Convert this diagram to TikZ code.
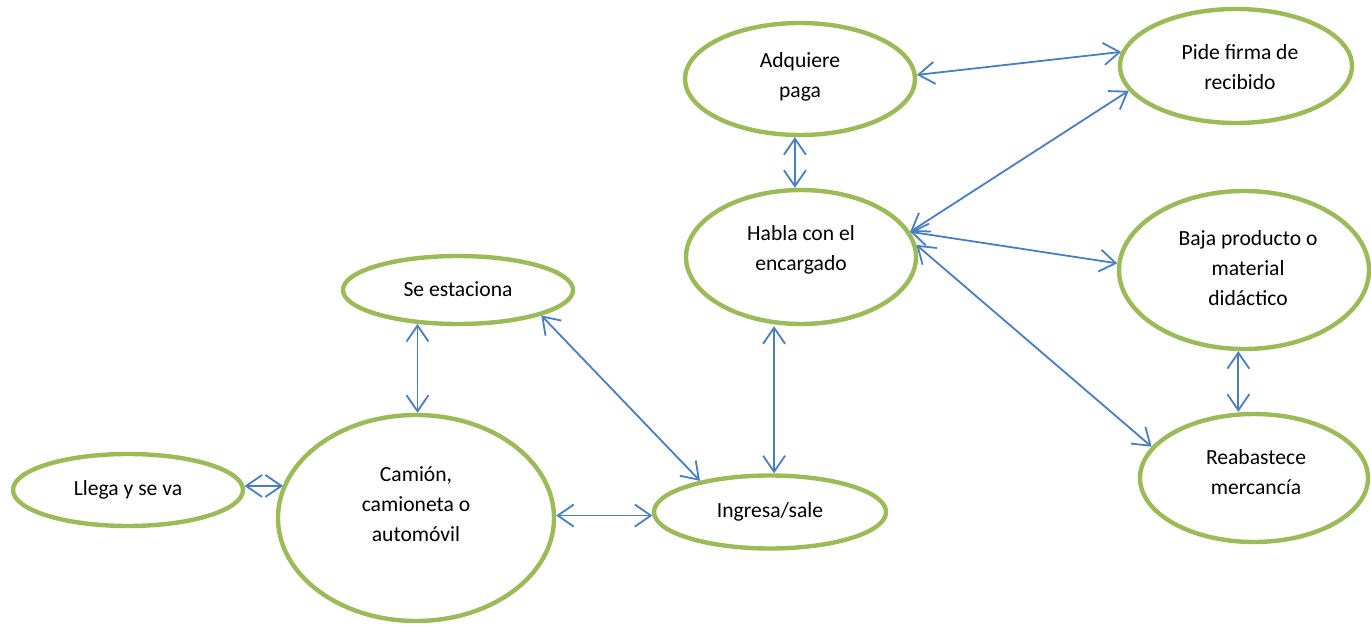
\documentclass[tikz,border=0pt]{standalone}
\usepackage{fontspec}
\setmainfont{Carlito}
\usetikzlibrary{arrows.meta,shapes.geometric}
\definecolor{ovgreen}{RGB}{155,187,89}
\definecolor{arblue}{RGB}{74,126,193}
\tikzset{
  oval/.style={ellipse, draw=ovgreen, line width=2.2pt, inner sep=0pt},
  txt/.style={align=center, font=\fontsize{10.8pt}{15pt}\selectfont, inner sep=0pt},
  conn/.style={draw=arblue, line width=0.9pt, line cap=round,
    {Straight Barb[length=8pt,width=11pt,line width=0.9pt]}-{Straight Barb[length=8pt,width=11pt,line width=0.9pt]}}
}
\begin{document}
\begin{tikzpicture}[x=0.5pt,y=-0.5pt]
\useasboundingbox (0,0) rectangle (1371,626);
% ellipses
\node[oval, minimum width=115pt, minimum height=56pt] (A) at (800,79) {};
\node[oval, minimum width=115pt, minimum height=67pt] (H) at (801,257) {};
\node[oval, minimum width=116pt, minimum height=57pt] (P) at (1236,66) {};
\node[oval, minimum width=125pt, minimum height=79pt] (B) at (1244,270) {};
\node[oval, minimum width=114pt, minimum height=64pt] (R) at (1254,478) {};
\node[oval, minimum width=115pt, minimum height=34pt] (S) at (458,290) {};
\node[oval, minimum width=115pt, minimum height=36pt] (L) at (128,490) {};
\node[oval, minimum width=138pt, minimum height=103pt] (C) at (416,518) {};
\node[oval, minimum width=116pt, minimum height=36.5pt] (I) at (770,512) {};
% texts
\node[txt] (At) at (800,77) {Adquiere\\paga};
\node[txt] (Ht) at (801,250) {Habla con el\\encargado};
\node[txt] (Pt) at (1240,67) {Pide firma de\\recibido};
\node[txt] (Bt) at (1248,268) {Baja producto o\\material\\didáctico};
\node[txt] (Rt) at (1256,472) {Reabastece\\mercancía};
\node[txt] (St) at (458,289) {Se estaciona};
\node[txt] (Lt) at (128,490) {Llega y se va};
\node[txt] (Ct) at (416,504) {Camión,\\camioneta o\\automóvil};
\node[txt] (It) at (770,512) {Ingresa/sale};
% connectors
\draw[conn] (L.2) -- (L.2 -| C.166);
\draw[conn] (C.1) -- (C.1 -| I.182);
\draw[conn] (S.220) -- (S.220 |- C.north);
\draw[conn] (S.-17) -- (I.156);
\draw[conn] (I.84) -- (I.84 |- H.south);
\draw[conn] (A.265) -- (A.265 |- H.north);
\draw[conn] (A.2) -- (P.173);
\draw[conn] (H.13) -- (P.193);
\draw[conn] (H.13) -- (B.177);
\draw[conn] (H.6) -- (R.163);
\draw[conn] (B.266) -- (B.266 |- R.north);
\end{tikzpicture}
\end{document}
